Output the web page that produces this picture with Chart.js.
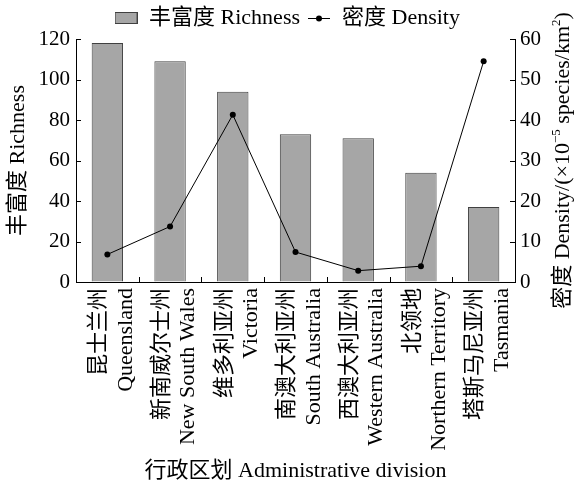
<!DOCTYPE html>
<html>
<head>
<meta charset="utf-8">
<script src="https://cdn.jsdelivr.net/npm/chart.js@4.4.1/dist/chart.umd.min.js"></script>
<style>
  html, body { margin: 0; padding: 0; background: #fff; }
</style>
</head>
<body>
<canvas id="graphique" width="574" height="490"></canvas>
<script>
// ---- Données ----
const regionsZh = ['昆士兰州', '新南威尔士州', '维多利亚州', '南澳大利亚州', '西澳大利亚州', '北领地', '塔斯马尼亚州']
const regionsEn = ['Queensland', 'New South Wales', 'Victoria', 'South Australia', 'Western Australia', 'Northern Territory', 'Tasmania']
const richesse = [118, 109, 94, 73, 71, 54, 37]
const densite = [6.8, 13.7, 41.3, 7.4, 2.8, 3.9, 54.5]

const POLICE = "'Liberation Serif', 'Times New Roman', 'Noto Sans CJK SC', serif"
const GRIS = '#a6a6a6'

// ---- Symboles de la légende ----
function symboleBarre() {
  const c = document.createElement('canvas')
  c.width = 23; c.height = 12
  const ctx = c.getContext('2d')
  ctx.fillStyle = GRIS
  ctx.fillRect(0.5, 0.5, 22, 11)
  ctx.strokeStyle = '#404040'
  ctx.lineWidth = 1
  ctx.strokeRect(0.5, 0.5, 22, 11)
  return c
}

function symboleLigne() {
  const c = document.createElement('canvas')
  c.width = 22; c.height = 8
  const ctx = c.getContext('2d')
  ctx.strokeStyle = '#000'
  ctx.lineWidth = 1
  ctx.beginPath()
  ctx.moveTo(0, 4.5); ctx.lineTo(22, 4.5)
  ctx.stroke()
  ctx.fillStyle = '#000'
  ctx.beginPath()
  ctx.arc(11, 4.5, 3, 0, Math.PI * 2)
  ctx.fill()
  return c
}

// ---- Graduations vers l'intérieur ----
const ticksInterieurs = {
  id: 'ticksInterieurs',
  afterDraw(chart) {
    const { ctx, scales: { x, y, y1 } } = chart
    ctx.save()
    ctx.strokeStyle = '#000'
    ctx.lineWidth = 1
    ctx.beginPath()
    y.ticks.forEach((t, i) => {
      const py = Math.round(y.getPixelForTick(i)) + 0.5
      ctx.moveTo(y.right, py); ctx.lineTo(y.right + 5, py)
    })
    y1.ticks.forEach((t, i) => {
      const py = Math.round(y1.getPixelForTick(i)) + 0.5
      ctx.moveTo(y1.left, py); ctx.lineTo(y1.left - 5, py)
    })
    for (let i = 1; i < x.ticks.length; i++) {
      const px = Math.round((x.getPixelForTick(i - 1) + x.getPixelForTick(i)) / 2) + 0.5
      ctx.moveTo(px, x.top); ctx.lineTo(px, x.top - 5)
    }
    ctx.stroke()
    ctx.restore()
  }
}

// ---- Titre de l'axe droit (lu de bas en haut, avec exposants) ----
const titreDroite = {
  id: 'titreDroite',
  afterDraw(chart) {
    const { ctx, chartArea } = chart
    const morceaux = [
      ['密度 Density/(×10', false],
      ['−5', true],
      [' species/km', false],
      ['2', true],
      [')', false]
    ]
    const taille = 22
    const police = exp => `${exp ? 13 : taille}px ${POLICE}`
    ctx.save()
    let largeur = 0
    morceaux.forEach(([t, exp]) => { ctx.font = police(exp); largeur += ctx.measureText(t).width })
    ctx.translate(563, (chartArea.top + chartArea.bottom) / 2)
    ctx.rotate(-Math.PI / 2)
    ctx.fillStyle = '#000'
    ctx.textBaseline = 'middle'
    let cx = -largeur / 2
    morceaux.forEach(([t, exp]) => {
      ctx.font = police(exp)
      ctx.fillText(t, cx, exp ? -6 : 0)
      cx += ctx.measureText(t).width
    })
    ctx.restore()
  }
}

new Chart(document.getElementById('graphique'), {
  type: 'bar',
  data: {
    labels: regionsZh.map((zh, i) => [zh, regionsEn[i]]),
    datasets: [
      {
        type: 'line',
        label: '密度 Density',
        data: densite,
        yAxisID: 'y1',
        borderColor: '#000',
        borderWidth: 1,
        pointRadius: 3,
        pointBackgroundColor: '#000',
        pointBorderWidth: 0,
        tension: 0,
        order: 0
      },
      {
        label: '丰富度 Richness',
        data: richesse,
        yAxisID: 'y',
        backgroundColor: GRIS,
        borderColor: '#404040',
        borderWidth: 1,
        categoryPercentage: 1,
        barPercentage: 0.5,
        order: 1
      }
    ]
  },
  options: {
    responsive: false,
    animation: false,
    layout: { padding: { top: 0, left: 0, right: 0, bottom: 0 } },
    plugins: {
      tooltip: { enabled: false },
      legend: {
        position: 'top',
        labels: {
          color: '#000',
          font: { family: POLICE, size: 22 },
          usePointStyle: true,
          pointStyleWidth: 24,
          boxHeight: 12,
          padding: 7,
          generateLabels: () => [
            { text: '丰富度 Richness', pointStyle: symboleBarre(), fillStyle: 'transparent', strokeStyle: 'transparent', lineWidth: 0, fontColor: '#000', datasetIndex: 1 },
            { text: '密度 Density', pointStyle: symboleLigne(), fillStyle: 'transparent', strokeStyle: 'transparent', lineWidth: 0, fontColor: '#000', datasetIndex: 0 }
          ]
        }
      }
    },
    scales: {
      x: {
        offset: true,
        grid: { display: true, drawOnChartArea: false, drawTicks: false },
        border: { display: true, color: '#000', width: 1 },
        ticks: {
          color: '#000',
          font: { family: POLICE, size: 22 },
          minRotation: 90,
          maxRotation: 90,
          autoSkip: false,
          labelOffset: -8,
          padding: 6
        },
        title: {
          display: true,
          text: '行政区划 Administrative division',
          color: '#000',
          font: { family: POLICE, size: 22 },
          padding: { top: 4, bottom: 6 }
        },
        afterFit: s => { s.height = 208 }
      },
      y: {
        position: 'left',
        min: 0,
        max: 120,
        ticks: { stepSize: 20, color: '#000', font: { family: POLICE, size: 21 }, padding: 6 },
        grid: { display: true, drawOnChartArea: false, drawTicks: false },
        border: { display: true, color: '#000', width: 1 },
        title: {
          display: true,
          text: '丰富度 Richness',
          color: '#000',
          font: { family: POLICE, size: 22 },
          padding: { top: 5, bottom: 2 }
        },
        afterFit: s => { s.width = 76 }
      },
      y1: {
        position: 'right',
        min: 0,
        max: 60,
        ticks: { stepSize: 10, color: '#000', font: { family: POLICE, size: 21 }, padding: 5 },
        grid: { display: true, drawOnChartArea: false, drawTicks: false },
        border: { display: true, color: '#000', width: 1 },
        afterFit: s => { s.width = 59 }
      }
    }
  },
  plugins: [ticksInterieurs, titreDroite]
})
</script>
</body>
</html>
